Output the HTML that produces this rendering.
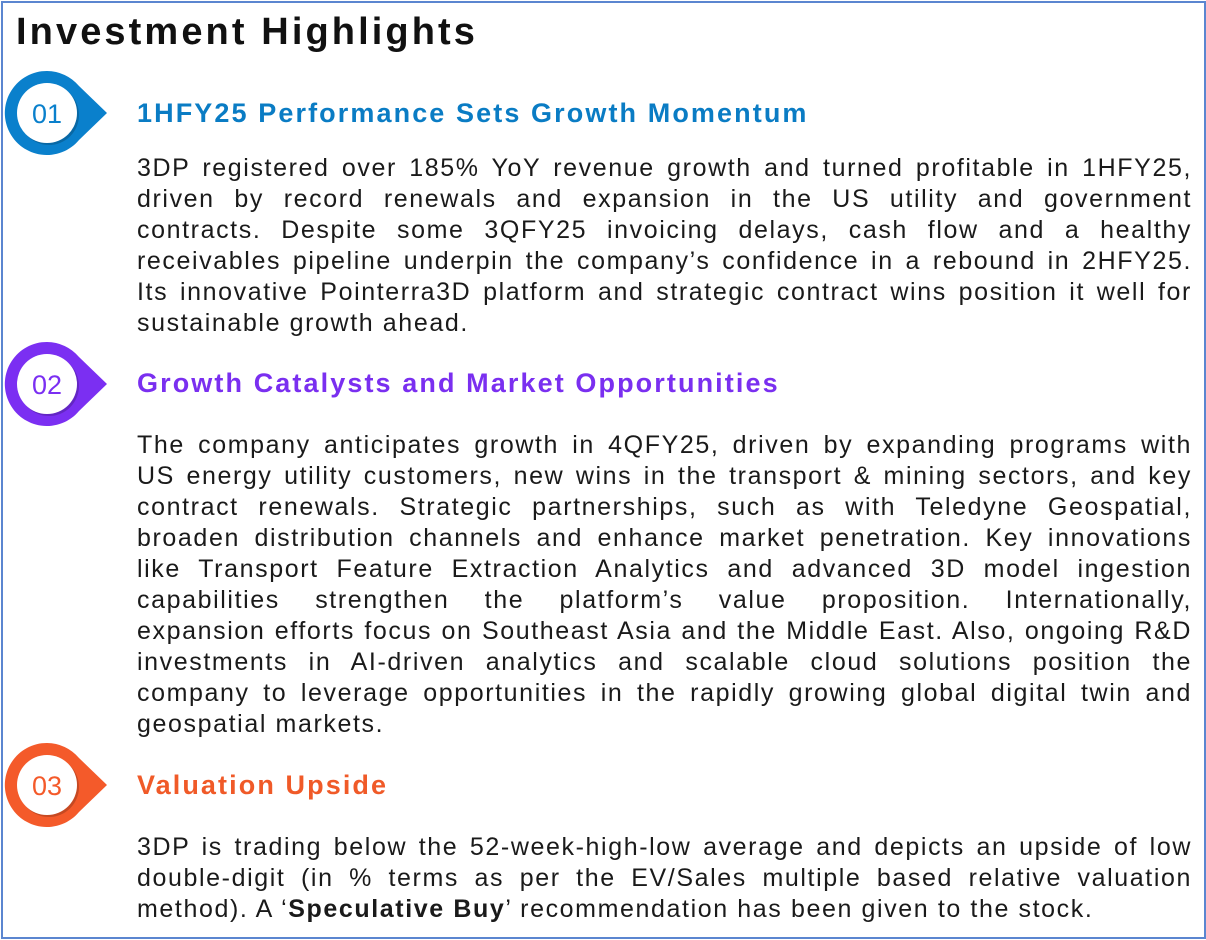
<!DOCTYPE html>
<html><head><meta charset="utf-8">
<style>
html,body{margin:0;padding:0;background:#fff;}
#page{position:relative;width:1206px;height:940px;overflow:hidden;background:#fff;font-family:"Liberation Sans",sans-serif;}
.frame{position:absolute;left:1px;top:1px;width:1201px;height:934px;border:2px solid #5b86d0;}
.title{position:absolute;left:16px;top:8px;font-size:38px;font-weight:bold;color:#111;letter-spacing:3.1px;line-height:48px;}
.h{position:absolute;left:137px;font-size:27px;font-weight:bold;line-height:36px;letter-spacing:2.1px;}
.l{position:absolute;left:137px;width:1055px;height:31px;line-height:31px;font-size:25px;color:#1a1a1a;white-space:nowrap;letter-spacing:1.6px;}
.j{text-align:justify;text-align-last:justify;white-space:normal;}
.icon{position:absolute;left:0;width:120px;height:100px;}
</style></head>
<body>
<div id="page">
<div class="frame"></div>
<div class="title">Investment Highlights</div>

<svg class="icon" style="top:63px" viewBox="0 0 120 100">
<path d="M47 8 A42 42 0 1 0 79 77 L107 50 L79 23 A42 42 0 0 0 47 8Z" fill="#0a80cc"/>
<circle cx="49" cy="52" r="30" fill="#00000030"/>
<circle cx="47" cy="50" r="30" fill="#fff"/>
<text x="47" y="60" text-anchor="middle" font-family="Liberation Sans" font-size="27" fill="#0a80cc">01</text>
</svg>
<div class="h" style="top:95px;color:#0a7cc4">1HFY25 Performance Sets Growth Momentum</div>
<div>
<div class="l j" style="top:153px">3DP registered over 185% YoY revenue growth and turned profitable in 1HFY25,</div>
<div class="l j" style="top:184px">driven by record renewals and expansion in the US utility and government</div>
<div class="l j" style="top:215px">contracts. Despite some 3QFY25 invoicing delays, cash flow and a healthy</div>
<div class="l j" style="top:246px">receivables pipeline underpin the company’s confidence in a rebound in 2HFY25.</div>
<div class="l j" style="top:277px">Its innovative Pointerra3D platform and strategic contract wins position it well for</div>
<div class="l" style="top:308px">sustainable growth ahead.</div>
</div>

<svg class="icon" style="top:334px" viewBox="0 0 120 100">
<path d="M47 8 A42 42 0 1 0 79 77 L107 50 L79 23 A42 42 0 0 0 47 8Z" fill="#7b2ff2"/>
<circle cx="49" cy="52" r="30" fill="#00000030"/>
<circle cx="47" cy="50" r="30" fill="#fff"/>
<text x="47" y="60" text-anchor="middle" font-family="Liberation Sans" font-size="27" fill="#7b2ff2">02</text>
</svg>
<div class="h" style="top:365px;color:#7a2ff0">Growth Catalysts and Market Opportunities</div>
<div>
<div class="l j" style="top:430px">The company anticipates growth in 4QFY25, driven by expanding programs with</div>
<div class="l j" style="top:461px">US energy utility customers, new wins in the transport &amp; mining sectors, and key</div>
<div class="l j" style="top:492px">contract renewals. Strategic partnerships, such as with Teledyne Geospatial,</div>
<div class="l j" style="top:523px">broaden distribution channels and enhance market penetration. Key innovations</div>
<div class="l j" style="top:554px">like Transport Feature Extraction Analytics and advanced 3D model ingestion</div>
<div class="l j" style="top:585px">capabilities strengthen the platform’s value proposition. Internationally,</div>
<div class="l j" style="top:616px">expansion efforts focus on Southeast Asia and the Middle East. Also, ongoing R&amp;D</div>
<div class="l j" style="top:647px">investments in AI-driven analytics and scalable cloud solutions position the</div>
<div class="l j" style="top:678px">company to leverage opportunities in the rapidly growing global digital twin and</div>
<div class="l" style="top:709px">geospatial markets.</div>
</div>

<svg class="icon" style="top:735px" viewBox="0 0 120 100">
<path d="M47 8 A42 42 0 1 0 79 77 L107 50 L79 23 A42 42 0 0 0 47 8Z" fill="#f45a2a"/>
<circle cx="49" cy="52" r="30" fill="#00000030"/>
<circle cx="47" cy="50" r="30" fill="#fff"/>
<text x="47" y="60" text-anchor="middle" font-family="Liberation Sans" font-size="27" fill="#f45a2a">03</text>
</svg>
<div class="h" style="top:767px;color:#f05a28">Valuation Upside</div>
<div>
<div class="l j" style="top:832px">3DP is trading below the 52-week-high-low average and depicts an upside of low</div>
<div class="l j" style="top:863px">double-digit (in % terms as per the EV/Sales multiple based relative valuation</div>
<div class="l" style="top:894px">method). A ‘<b>Speculative Buy</b>’ recommendation has been given to the stock.</div>
</div>
</div>
</body></html>
